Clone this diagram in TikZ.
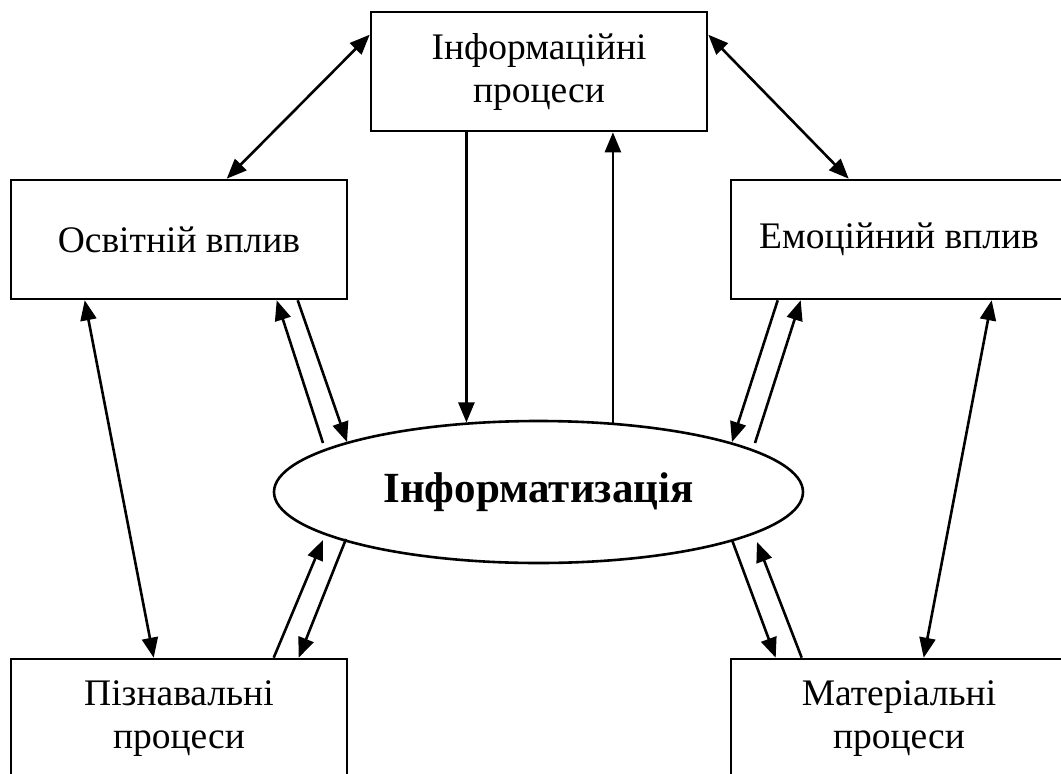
\documentclass[tikz,border=0pt]{standalone}
\usepackage{fontspec}
\setmainfont{Liberation Serif}
\usetikzlibrary{shapes.geometric,arrows.meta,calc}
\tikzset{
  box/.style={draw, line width=2.6pt, minimum width=336pt, minimum height=119pt,
    inner sep=0pt, align=center, font=\fontsize{37.5}{43}\selectfont},
  oval/.style={ellipse, draw, line width=2.6pt, minimum width=529pt, minimum height=142pt,
    inner sep=0pt, font=\fontsize{43}{50}\selectfont\bfseries},
  conn/.style={line width=2.6pt},
  one/.style={conn, -{Triangle[length=20pt,width=16pt]}},
  two/.style={conn, {Triangle[length=20pt,width=16pt]}-{Triangle[length=20pt,width=16pt]}}
}
\begin{document}
\begin{tikzpicture}[x=1pt,y=-1pt]
\useasboundingbox (0,0) rectangle (1061,774);
\clip (0,0) rectangle (1061,774);
\node[box] (T) at (539,71.5) {Інформаційні\\процеси};
\node[box] (L) at (179,239.5) {Освітній вплив};
\node[box] (R) at (899,239.5) {Емоційний вплив};
\node[box] (BL) at (179,718.5) {Пізнавальні\\процеси};
\node[box] (BR) at (899,718.5) {Матеріальні\\процеси};
\node[oval] (E) at (538.5,492) {Інформатизація};
% top diagonals
\draw[two] ($(L.north west)+(217,0)$) -- ($(T.north west)+(0,24)$);
\draw[two] ($(T.north east)+(0,24)$) -- ($(R.north west)+(119,0)$);
% vertical pair
\draw[one] (E.136.7 |- T.south) -- (E.136.7);
\draw[one] (E.43.3) -- (E.43.3 |- T.south);
% left box <-> ellipse
\draw[one] ($(E.center)+(-215.5,-49)$) -- ($(L.south west)+(267,0)$);
\draw[one] ($(L.south west)+(288,0)$) -- ($(E.center)+(-191.5,-50)$);
% left box <-> bottom left
\draw[two] ($(L.south west)+(75,0)$) -- ($(BL.north west)+(144,0)$);
% bottom left <-> ellipse
\draw[one] ($(BL.north west)+(264,0)$) -- ($(E.center)+(-215.5,48)$);
\draw[one] ($(E.center)+(-192.5,47)$) -- ($(BL.north west)+(289,0)$);
% right box <-> ellipse
\draw[one] ($(R.south west)+(48,0)$) -- ($(E.center)+(193.5,-50)$);
\draw[one] ($(E.center)+(216.5,-49)$) -- ($(R.south west)+(71,0)$);
% right box <-> bottom right
\draw[two] ($(R.south west)+(262,0)$) -- ($(BR.north west)+(194,0)$);
% ellipse <-> bottom right
\draw[one] ($(E.center)+(193.5,48)$) -- ($(BR.north west)+(46,0)$);
\draw[one] ($(BR.north west)+(72,0)$) -- ($(E.center)+(218.5,50)$);
\end{tikzpicture}
\end{document}
